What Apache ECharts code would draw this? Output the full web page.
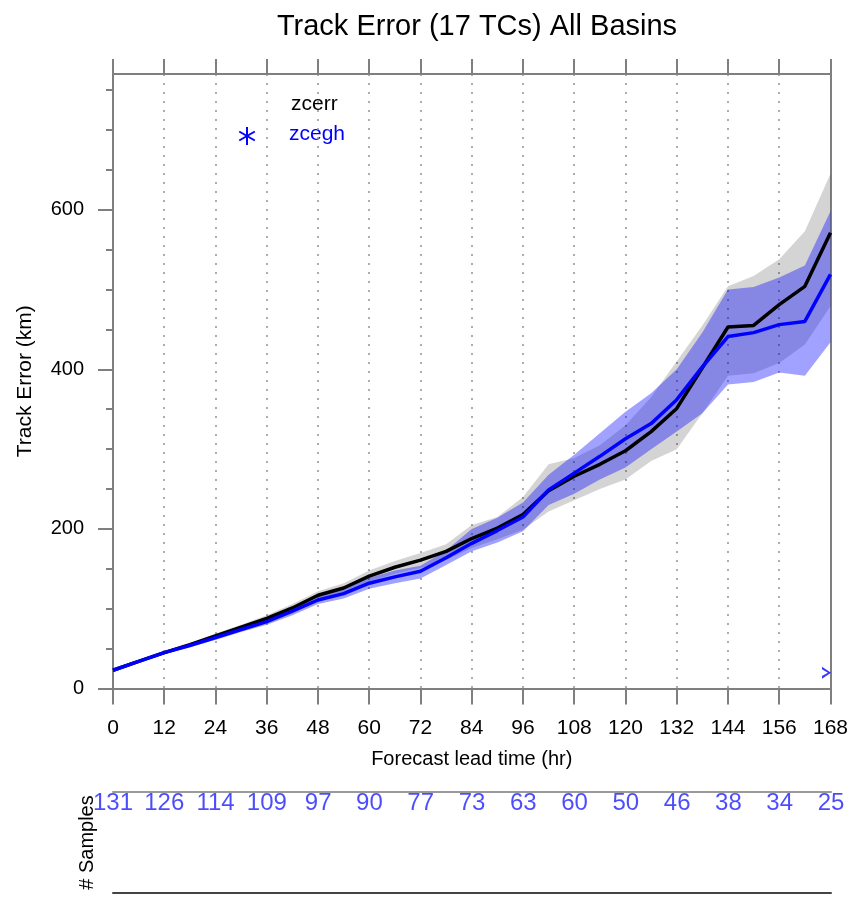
<!DOCTYPE html>
<html>
<head>
<meta charset="utf-8">
<title>Track Error (17 TCs) All Basins</title>
<script src="https://cdn.jsdelivr.net/npm/echarts@6/dist/echarts.min.js"></script>
<style>
  html, body { margin: 0; padding: 0; background: #ffffff; }
  #chart { width: 851px; height: 897px; }
</style>
</head>
<body>
<div id="chart"></div>
<script>
// Forecast lead times (hr)
const hours = [0, 6, 12, 18, 24, 30, 36, 42, 48, 54, 60, 66, 72, 78, 84, 90, 96,
               102, 108, 114, 120, 126, 132, 138, 144, 150, 156, 162, 168];

// zcerr mean track error (km) and its confidence band
const zcerr   = [23, 34, 45, 55, 66, 77, 88, 101, 117, 126, 141, 152, 161, 172, 188, 201, 218,
                 248, 266, 281, 298, 322, 351, 402, 453, 455, 481, 504, 571];
const zcerrHi = [23, 35, 47, 57, 69, 80, 92, 106, 122, 132, 148, 160, 170, 181, 205, 215, 240,
                 281, 289, 305, 330, 365, 410, 455, 504, 517, 538, 573, 645];
const zcerrLo = [23, 33, 43, 53, 63, 74, 84, 97, 112, 120, 134, 144, 151, 161, 176, 187, 199,
                 222, 236, 250, 262, 285, 300, 345, 392, 395, 408, 431, 479];

// zcegh mean track error (km) and its confidence band
const zcegh   = [23, 34, 45, 54, 64, 74, 84, 97, 111, 119, 132, 140, 147, 164, 182, 198, 215,
                 249, 270, 291, 313, 332, 362, 403, 441, 446, 456, 460, 519];
const zceghHi = [23, 35, 47, 56, 67, 77, 88, 102, 117, 126, 139, 148, 154, 173, 200, 214, 233,
                 268, 293, 320, 347, 370, 400, 446, 500, 503, 515, 530, 598];
const zceghLo = [23, 33, 43, 52, 61, 71, 80, 92, 106, 113, 125, 132, 138, 155, 172, 183, 197,
                 230, 244, 262, 277, 300, 322, 345, 381, 384, 396, 392, 434];

// Significance marker
const sigHours  = [168];
const sigValues = [20];

// Sample counts per lead time
const sampleHours = [0, 12, 24, 36, 48, 60, 72, 84, 96, 108, 120, 132, 144, 156, 168];
const samples     = [131, 126, 114, 109, 97, 90, 77, 73, 63, 60, 50, 46, 38, 34, 25];

// Axis ticks
const yMajorTicks  = [0, 200, 400, 600];
const yMinorTicks  = [50, 100, 150, 250, 300, 350, 450, 500, 550, 650, 700, 750];

const FONT = "'Liberation Sans', Arial, Helvetica, sans-serif";
const AXIS_GREY = '#7f7f7f';

const pairs = (xs, ys) => xs.map((x, i) => [x, ys[i]]);

// Confidence band drawn as one polygon: upper edge forward, lower edge back
function bandSeries(name, lo, hi, color, z) {
  return {
    name: name, type: 'custom', xAxisIndex: 0, yAxisIndex: 0,
    data: hours.map((h, i) => [h, lo[i], hi[i]]),
    encode: { x: 0, y: [1, 2] },
    silent: true, z: z,
    renderItem: function (params, api) {
      if (params.dataIndex !== 0) return null;
      const pts = [];
      for (let j = 0; j < hours.length; j++) pts.push(api.coord([hours[j], hi[j]]));
      for (let j = hours.length - 1; j >= 0; j--) pts.push(api.coord([hours[j], lo[j]]));
      return {
        type: 'polygon',
        shape: { points: pts },
        style: { fill: color, stroke: null }
      };
    }
  };
}

const chart = echarts.init(document.getElementById('chart'), null, { renderer: 'canvas' });

const axisLineStyle = { color: AXIS_GREY, width: 2 };

const option = {
  backgroundColor: '#ffffff',
  animation: false,
  textStyle: { fontFamily: FONT },
  title: {
    text: 'Track Error (17 TCs) All Basins',
    left: 472,
    top: 7,
    textAlign: 'center',
    textStyle: { fontFamily: FONT, fontSize: 29, fontWeight: 'normal', color: '#000' }
  },
  grid: [
    { left: 113, right: 20, top: 74, height: 614.6 },
    { left: 113, right: 20, top: 792, height: 101 }
  ],
  xAxis: [
    {
      gridIndex: 0, type: 'value', position: 'bottom',
      min: 0, max: 168, interval: 12,
      axisLine: { show: true, onZero: false, lineStyle: axisLineStyle },
      axisTick: { show: true, length: 16, lineStyle: axisLineStyle },
      axisLabel: { show: true, margin: 29, fontSize: 21, color: '#000', fontFamily: FONT },
      splitLine: { show: true, lineStyle: { type: [2, 7], color: '#9a9a9a', width: 1.6 } },
      name: 'Forecast lead time (hr)', nameLocation: 'middle', nameGap: 61,
      nameTextStyle: { fontSize: 20, color: '#000', fontFamily: FONT }
    },
    {
      gridIndex: 0, type: 'value', position: 'top',
      min: 0, max: 168, interval: 12,
      axisLine: { show: true, onZero: false, lineStyle: axisLineStyle },
      axisTick: { show: true, length: 15, lineStyle: axisLineStyle },
      axisLabel: { show: false },
      splitLine: { show: false }
    },
    {
      gridIndex: 1, type: 'value', position: 'top',
      min: 0, max: 168, interval: 12,
      axisLine: { show: true, onZero: false, lineStyle: { color: '#9a9a9a', width: 2 } },
      axisTick: { show: false }, axisLabel: { show: false }, splitLine: { show: false }
    },
    {
      gridIndex: 1, type: 'value', position: 'bottom',
      min: 0, max: 168, interval: 12,
      axisLine: { show: true, onZero: false, lineStyle: { color: '#444', width: 2 } },
      axisTick: { show: false }, axisLabel: { show: false }, splitLine: { show: false }
    }
  ],
  yAxis: [
    {
      gridIndex: 0, type: 'value', position: 'left',
      min: 0, max: 770,
      axisLine: { show: true, lineStyle: axisLineStyle },
      axisTick: { show: true, length: 15, customValues: yMajorTicks, lineStyle: axisLineStyle },
      axisLabel: { show: true, customValues: yMajorTicks, margin: 29, fontSize: 20, color: '#000', fontFamily: FONT },
      splitLine: { show: false },
      name: 'Track Error (km)', nameLocation: 'middle', nameGap: 77, nameRotate: 90,
      nameTextStyle: { fontSize: 21, color: '#000', fontFamily: FONT }
    },
    {
      gridIndex: 0, type: 'value', position: 'left',
      min: 0, max: 770,
      axisLine: { show: false },
      axisTick: { show: true, length: 7, customValues: yMinorTicks, lineStyle: axisLineStyle },
      axisLabel: { show: false },
      splitLine: { show: false }
    },
    {
      gridIndex: 0, type: 'value', position: 'right',
      min: 0, max: 770,
      axisLine: { show: true, lineStyle: axisLineStyle },
      axisTick: { show: false }, axisLabel: { show: false }, splitLine: { show: false }
    },
    {
      gridIndex: 1, type: 'value', position: 'left',
      min: 0, max: 1,
      axisLine: { show: false }, axisTick: { show: false }, axisLabel: { show: false },
      splitLine: { show: false },
      name: '# Samples', nameLocation: 'middle', nameGap: 16, nameRotate: 90,
      nameTextStyle: { fontSize: 20, color: '#000', fontFamily: FONT }
    }
  ],
  series: [
    // Confidence bands
    bandSeries('zcerrBand', zcerrLo, zcerrHi, 'rgba(0,0,0,0.17)', 1),
    bandSeries('zceghBand', zceghLo, zceghHi, 'rgba(0,0,255,0.37)', 2),
    // Mean errors
    {
      name: 'zcerr', type: 'line', xAxisIndex: 0, yAxisIndex: 0,
      data: pairs(hours, zcerr), symbol: 'none',
      lineStyle: { color: '#000000', width: 3.5 }, z: 3
    },
    {
      name: 'zcegh', type: 'line', xAxisIndex: 0, yAxisIndex: 0,
      data: pairs(hours, zcegh), symbol: 'none',
      lineStyle: { color: '#0000ff', width: 3.5 }, z: 4
    },
    // Significance marker
    {
      name: 'zceghSig', type: 'scatter', xAxisIndex: 0, yAxisIndex: 0,
      data: pairs(sigHours, sigValues),
      symbol: 'path://M0,0 L10,6 L0,12 L0,9.4 L6.6,6 L0,2.6 Z',
      symbolSize: [9, 12], symbolOffset: [-4, 0],
      itemStyle: { color: '#0000ff' }, clip: false, z: 5
    },
    // Sample counts row
    {
      name: 'samples', type: 'scatter', xAxisIndex: 2, yAxisIndex: 3,
      data: sampleHours.map((h, i) => [h, 1, samples[i]]),
      symbolSize: 0, clip: false, silent: true,
      label: {
        show: true, position: 'bottom', distance: -1,
        formatter: p => String(p.value[2]),
        fontSize: 24, color: '#1f1fff', fontFamily: FONT
      }
    }
  ],
  graphic: [
    {
      type: 'text', x: 291, y: 104,
      style: { text: 'zcerr', fill: '#000', font: `21px ${FONT}`, verticalAlign: 'middle' }
    },
    {
      type: 'text', x: 289, y: 134,
      style: { text: 'zcegh', fill: '#0000ff', font: `21px ${FONT}`, verticalAlign: 'middle' }
    },
    {
      type: 'group', x: 247, y: 136,
      children: [
        { type: 'line', shape: { x1: 0, y1: -9, x2: 0, y2: 9 }, style: { stroke: '#0000ff', lineWidth: 2 } },
        { type: 'line', shape: { x1: -7.8, y1: -4.5, x2: 7.8, y2: 4.5 }, style: { stroke: '#0000ff', lineWidth: 2 } },
        { type: 'line', shape: { x1: -7.8, y1: 4.5, x2: 7.8, y2: -4.5 }, style: { stroke: '#0000ff', lineWidth: 2 } }
      ]
    }
  ]
};

chart.setOption(option);
</script>
</body>
</html>
